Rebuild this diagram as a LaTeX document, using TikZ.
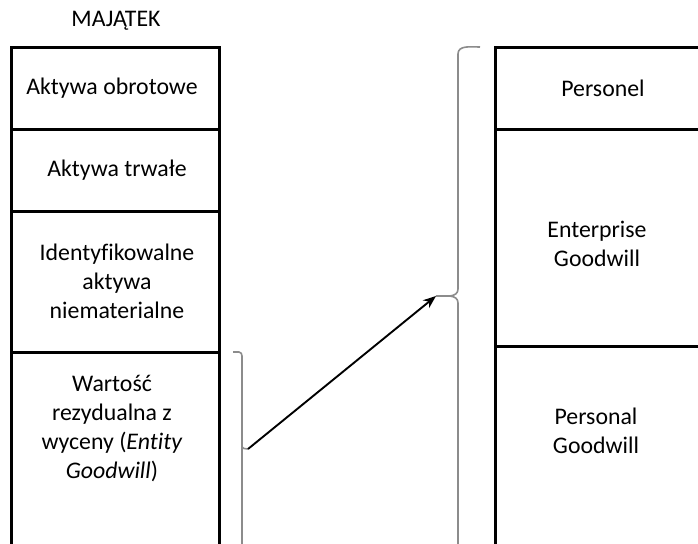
\documentclass[tikz,border=0pt]{standalone}
\usepackage{fontspec}
\setmainfont{Carlito}[Ligatures=NoCommon]
\usetikzlibrary{arrows.meta}
\begin{document}
\begin{tikzpicture}[x=1pt,y=-1pt,
  box/.style={draw=black,line width=2.6pt,minimum width=#1,inner sep=0pt,anchor=north west},
  txt/.style={align=center,inner sep=0pt,font=\fontsize{23.8}{29}\selectfont},
  brace/.style={draw=black!45,line width=1.6pt},
  conn/.style={draw=black,line width=1.9pt,-{Stealth[length=13pt,width=10pt]}}]
\clip (0,0) rectangle (698,543);
% left column
\node[box=208pt,minimum height=82pt] (l1) at (10,46) {};
\node[box=208pt,minimum height=82pt] (l2) at (10,128) {};
\node[box=208pt,minimum height=141pt] (l3) at (10,210) {};
\node[box=208pt,minimum height=260pt] (l4) at (10,351) {};
% right column
\node[box=240pt,minimum height=82pt] (r1) at (494,46) {};
\node[box=240pt,minimum height=217pt] (r2) at (494,128) {};
\node[box=240pt,minimum height=260pt] (r3) at (494,345) {};
% texts
\node[txt] (t0) at (116,21) {MAJĄTEK};
\node[txt] (t1) at (112,88) {Aktywa obrotowe};
\node[txt] (t2) at (117,170) {Aktywa trwałe};
\node[txt] (t3) at (117,281) {Identyfikowalne\\aktywa\\niematerialne};
\node[txt] (t4) at (112,429) {Wartość\\rezydualna z\\wyceny (\textit{Entity}\\\textit{Goodwill})};
\node[txt] (t5) at (603,88) {Personel};
\node[txt] (t6) at (597,244) {Enterprise\\Goodwill};
\node[txt] (t7) at (596,431) {Personal\\Goodwill};
% braces
\coordinate (lb) at (248,449);
\coordinate (rb) at (436,296);
\draw[brace] (233,352) -- (239,352) to[out=0,in=90] (242,356) -- (242,446) to[out=-90,in=180] (lb);
\draw[brace] (242,446) -- (242,560);
\draw[brace] (480,47) to[out=180,in=90] (458,54) -- (458,289)
  to[out=-90,in=0] (rb) to[out=0,in=90] (458,303) -- (458,560);
% arrow
\draw[conn] (lb) -- (rb);
\end{tikzpicture}
\end{document}
